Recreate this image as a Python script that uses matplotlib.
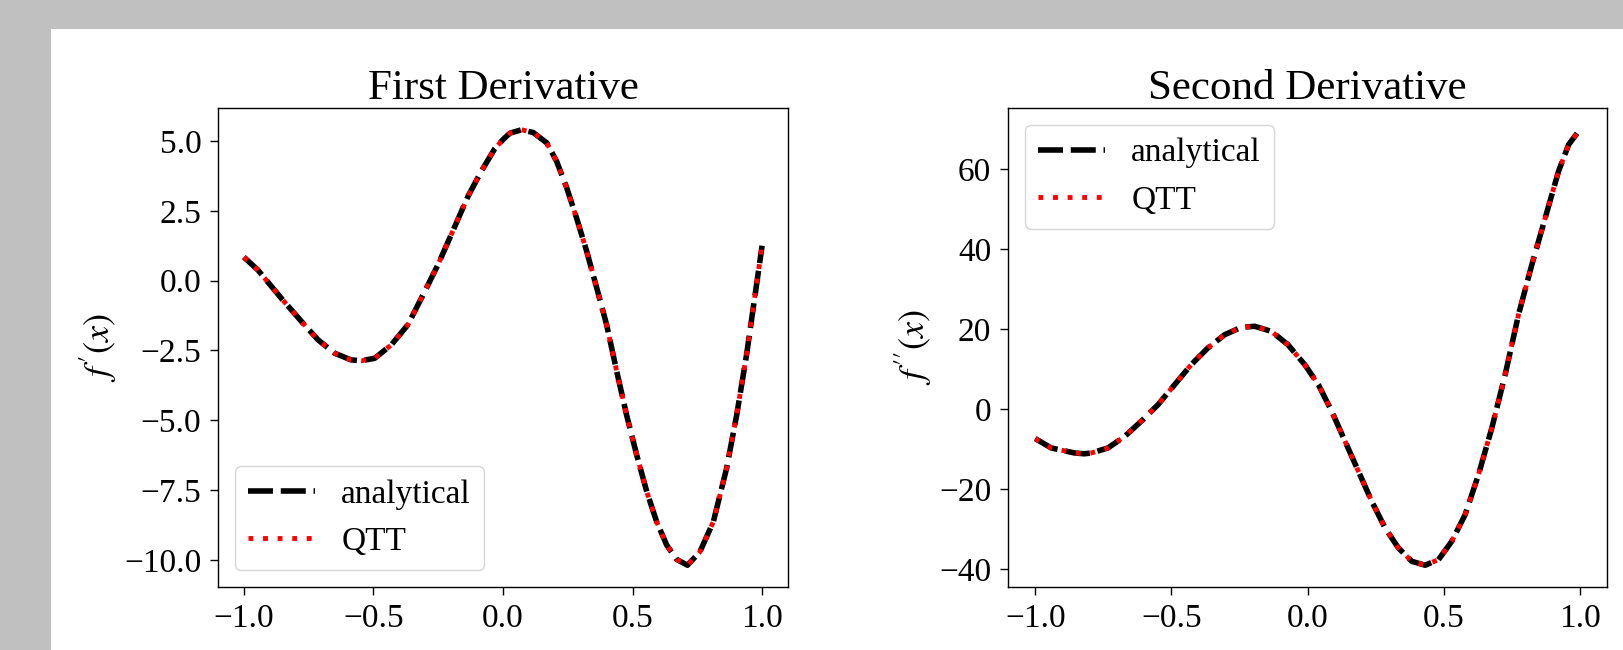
import numpy as np
import matplotlib
matplotlib.use("Agg")
import matplotlib.pyplot as plt
from matplotlib.patches import Rectangle
from matplotlib.ticker import MultipleLocator

# f'(x): giá trị (analytical và QTT trùng nhau)
x1 = [-1.0, -0.946, -0.856, -0.778, -0.714, -0.650, -0.586, -0.547, -0.495, -0.431,
      -0.367, -0.302, -0.251, -0.200, -0.135, -0.084, -0.032, 0.0, 0.027, 0.072,
      0.117, 0.169, 0.207, 0.246, 0.284, 0.323, 0.362, 0.400, 0.439, 0.477,
      0.516, 0.555, 0.593, 0.632, 0.670, 0.712, 0.760, 0.812, 0.863, 0.902,
      0.940, 0.973, 1.0]
d1 = [0.84, 0.38, -0.63, -1.46, -2.12, -2.60, -2.84, -2.87, -2.78, -2.30,
      -1.58, -0.39, 0.57, 1.64, 3.02, 3.91, 4.72, 5.05, 5.28, 5.40,
      5.30, 4.93, 4.27, 3.32, 2.24, 1.05, -0.27, -1.58, -3.25, -4.81,
      -6.24, -7.56, -8.63, -9.47, -9.98, -10.19, -9.71, -8.63, -6.72, -4.81,
      -2.66, -0.51, 1.25]

# f''(x)
x2 = [-1.0, -0.941, -0.855, -0.820, -0.794, -0.733, -0.671, -0.611, -0.549, -0.488,
      -0.427, -0.366, -0.304, -0.243, -0.194, -0.133, -0.072, -0.010, 0.040, 0.089,
      0.138, 0.187, 0.236, 0.285, 0.334, 0.383, 0.432, 0.481, 0.530, 0.579,
      0.628, 0.677, 0.726, 0.775, 0.824, 0.873, 0.922, 0.959, 1.0]
d2 = [-7.4, -9.75, -11.0, -11.2, -11.0, -9.75, -6.83, -3.08, 1.08, 6.08,
      11.08, 15.25, 18.58, 20.42, 20.67, 19.42, 16.08, 11.08, 6.08, -0.58,
      -8.08, -15.58, -23.08, -29.75, -34.75, -38.08, -39.06, -37.67, -33.08, -26.42,
      -16.42, -4.75, 8.58, 23.58, 36.08, 47.75, 59.42, 66.08, 69.8]

W, H = 1623, 650

plt.rcParams["font.family"] = "serif"
plt.rcParams["font.serif"] = ["Liberation Serif", "DejaVu Serif"]
plt.rcParams["mathtext.fontset"] = "stix"

fig = plt.figure(figsize=(W / 100, H / 100), dpi=100, facecolor="#c0c0c0")
# nền trắng (ảnh gốc bị cắt, viền xám bên trái và phía trên)
fig.add_artist(Rectangle((51 / W, 0), 1 - 51 / W, 1 - 29 / H, transform=fig.transFigure,
                         facecolor="white", edgecolor="none", zorder=-5))


def panel(left, width, xs, ys, title, ylab, loc, ystep):
    ax = fig.add_axes([left / W, (H - 587) / H, width / W, 479 / H])
    ax.plot(xs, ys, color="black", lw=4, ls=(0, (4.5, 1.4)), label="analytical")
    ax.plot(xs, ys, color="red", lw=3.5, ls=(0, (1, 2)), label="QTT")
    ax.set_title(title, fontsize=31, pad=4)
    ax.set_ylabel(ylab, fontsize=26)
    ax.set_xlabel("$x$", fontsize=26, labelpad=14)
    ax.xaxis.set_major_locator(MultipleLocator(0.5))
    ax.yaxis.set_major_locator(MultipleLocator(ystep))
    ax.tick_params(labelsize=24, length=6, width=1.0, pad=6)
    for s in ax.spines.values():
        s.set_linewidth(1.0)
    ax.legend(loc=loc, fontsize=24, handlelength=2.0)
    return ax


panel(218, 570, x1, d1, "First Derivative", "$f'(x)$", "lower left", 2.5)
panel(1008, 599, x2, d2, "Second Derivative", "$f''(x)$", "upper left", 20)

fig.savefig("out.png", dpi=100, facecolor=fig.get_facecolor())
